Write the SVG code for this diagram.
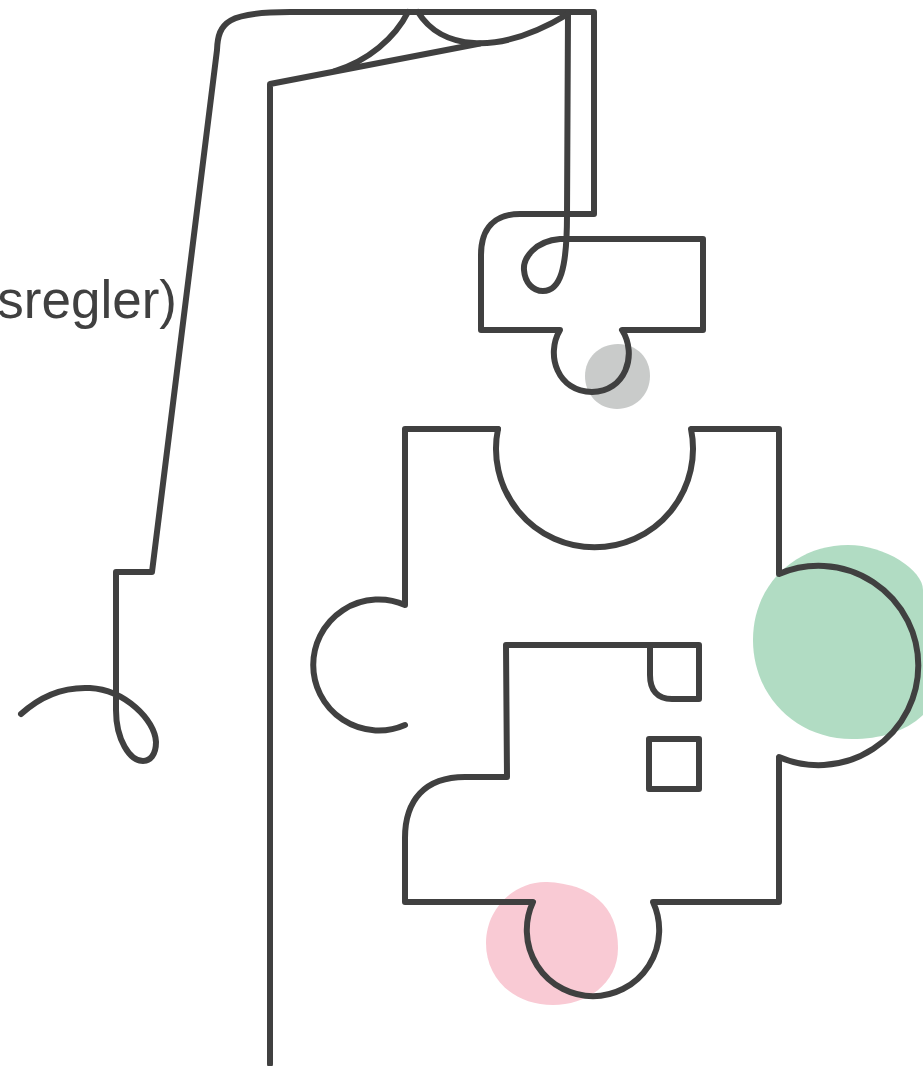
<svg xmlns="http://www.w3.org/2000/svg" width="923" height="1066" viewBox="0 0 923 1066">
<style>
.l{fill:none;stroke:#404040;stroke-width:6;stroke-linejoin:round;stroke-linecap:round}
.t{font-family:"Liberation Sans",Arial,sans-serif;font-size:53px;fill:#404040}
</style>
<rect width="923" height="1066" fill="#fff"/>
<g id="blobs">
<path id="blob-gray" d="M618 344C637 344 650 358 650 376C650 395 635 409 617 409C599 409 585 395 585 376C585 358 599 344 618 344Z" fill="#c9cbca"/>
<path id="blob-green" d="M848 545C885 545 923 570 923 590V715C905 732 880 739 852 739C795 739 753 695 753 640C753 585 795 545 848 545Z" fill="#b1dcc3"/>
<path id="blob-pink" d="M547 882C590 884 618 905 618 948C618 985 585 1005 553 1005C515 1005 486 980 486 943C486 908 515 881 547 882Z" fill="#f9cad4"/>
</g>
<g id="label"><text class="t" x="177" y="318" text-anchor="end">sregler)</text></g>
<g id="connectors">
<path id="conn-left" class="l" d="M21 714C45 692 70 687 90 688C125 690 155 720 156 742C156 755 150 761 143 761C130 761 116 740 116 710V572H152L217 50C218 22 228 12 290 12H594V214H520C495 214 481 228 481 255V330H560C545 355 558 392 592 392C625 392 638 355 622 330H703V239H560C535 241 523 258 524 270C525 283 533 291 543 291C560 291 567 270 567 215L568 14"/>
<path id="conn-arc-a" class="l" d="M408 12C395 38 368 61 335 71"/>
<path id="conn-arc-b" class="l" d="M418 12C440 48 495 58 568 14"/>
<path id="conn-main" class="l" d="M270 1064V84L480 43.5"/>
</g>
<g id="puzzle">
<path class="l" d="M498 429H405V605A65.5 65.5 0 1 0 405 725"/>
<path class="l" d="M498 429A98.5 98.5 0 1 0 691 429H779V574A99.7 99.7 0 1 1 779 757V902H653A66.2 66.2 0 1 1 533 902H405V838C405 800 425 777 465 777H507L506 645H699V699H672C657 699 650 690 650 675V645"/>
<rect class="l" x="649" y="739" width="50" height="50"/>
</g>
</svg>
